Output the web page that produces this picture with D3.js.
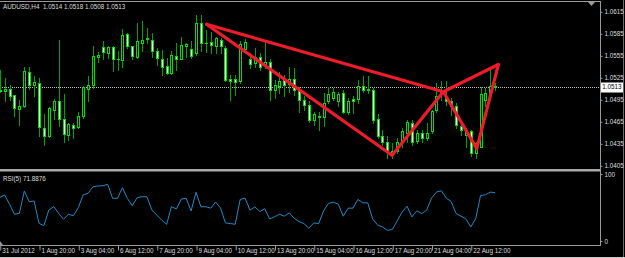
<!DOCTYPE html>
<html><head><meta charset="utf-8">
<script src="https://cdn.jsdelivr.net/npm/d3@7/dist/d3.min.js"></script>
<style>html,body{margin:0;padding:0;background:#000;overflow:hidden}</style>
</head><body>
<script>
// ---- data ----
const symbolTitle = "AUDUSD,H4  1.0514 1.0518 1.0508 1.0513";
const rsiTitle = "RSI(5) 71.8876";
const openP  = [1.0509,1.0507,1.0510,1.0501,1.0483,1.0486,1.0533,1.0515,1.0518,1.0457,1.0445,1.0481,1.0494,1.0469,1.0447,1.0461,1.0458,1.0473,1.0510,1.0515,1.0553,1.0567,1.0559,1.0567,1.0551,1.0549,1.0585,1.0568,1.0553,1.0573,1.0579,1.0577,1.0562,1.0551,1.0541,1.0531,1.0555,1.0551,1.0569,1.0564,1.0559,1.0600,1.0573,1.0574,1.0569,1.0577,1.0566,1.0524,1.0524,1.0520,1.0564,1.0551,1.0545,1.0553,1.0544,1.0547,1.0508,1.0514,1.0522,1.0517,1.0523,1.0509,1.0495,1.0488,1.0468,1.0472,1.0472,1.0493,1.0497,1.0493,1.0504,1.0479,1.0496,1.0496,1.0514,1.0510,1.0508,1.0469,1.0445,1.0438,1.0421,1.0425,1.0438,1.0450,1.0463,1.0439,1.0450,1.0443,1.0452,1.0481,1.0504,1.0497,1.0494,1.0486,1.0459,1.0447,1.0453,1.0423,1.0431,1.0495,1.0504,1.0514];
const highP  = [1.0536,1.0525,1.0515,1.0502,1.0495,1.0540,1.0540,1.0527,1.0525,1.0475,1.0485,1.0496,1.0577,1.0503,1.0463,1.0463,1.0479,1.0514,1.0528,1.0569,1.0560,1.0575,1.0568,1.0569,1.0561,1.0591,1.0586,1.0569,1.0600,1.0602,1.0593,1.0586,1.0566,1.0563,1.0552,1.0561,1.0572,1.0581,1.0572,1.0575,1.0611,1.0611,1.0590,1.0588,1.0581,1.0579,1.0568,1.0529,1.0529,1.0575,1.0578,1.0559,1.0566,1.0559,1.0572,1.0550,1.0522,1.0533,1.0529,1.0540,1.0538,1.0513,1.0500,1.0493,1.0479,1.0479,1.0504,1.0513,1.0511,1.0506,1.0509,1.0497,1.0500,1.0522,1.0527,1.0528,1.0511,1.0475,1.0454,1.0445,1.0436,1.0443,1.0456,1.0468,1.0468,1.0454,1.0454,1.0463,1.0481,1.0518,1.0520,1.0520,1.0497,1.0490,1.0464,1.0456,1.0454,1.0438,1.0513,1.0511,1.0539,1.0518];
const lowP   = [1.0505,1.0493,1.0495,1.0473,1.0460,1.0485,1.0510,1.0500,1.0446,1.0434,1.0444,1.0469,1.0459,1.0437,1.0440,1.0443,1.0456,1.0470,1.0494,1.0511,1.0547,1.0551,1.0552,1.0534,1.0535,1.0540,1.0566,1.0551,1.0552,1.0562,1.0572,1.0554,1.0543,1.0529,1.0530,1.0530,1.0536,1.0550,1.0554,1.0552,1.0556,1.0561,1.0560,1.0559,1.0559,1.0559,1.0520,1.0495,1.0502,1.0518,1.0563,1.0538,1.0540,1.0536,1.0538,1.0495,1.0497,1.0504,1.0500,1.0506,1.0502,1.0479,1.0481,1.0465,1.0461,1.0454,1.0459,1.0490,1.0495,1.0486,1.0477,1.0475,1.0477,1.0490,1.0506,1.0504,1.0463,1.0443,1.0434,1.0416,1.0415,1.0422,1.0431,1.0438,1.0434,1.0436,1.0438,1.0440,1.0450,1.0479,1.0495,1.0488,1.0474,1.0457,1.0447,1.0431,1.0418,1.0416,1.0430,1.0486,1.0502,1.0508];
const closeP = [1.0507,1.0510,1.0500,1.0484,1.0487,1.0534,1.0515,1.0519,1.0458,1.0446,1.0484,1.0494,1.0469,1.0448,1.0462,1.0457,1.0473,1.0512,1.0515,1.0555,1.0556,1.0560,1.0567,1.0551,1.0551,1.0584,1.0568,1.0555,1.0575,1.0577,1.0578,1.0561,1.0552,1.0540,1.0532,1.0556,1.0551,1.0570,1.0571,1.0555,1.0600,1.0573,1.0572,1.0570,1.0579,1.0569,1.0522,1.0521,1.0519,1.0571,1.0574,1.0544,1.0554,1.0540,1.0547,1.0508,1.0515,1.0521,1.0515,1.0523,1.0508,1.0495,1.0488,1.0468,1.0475,1.0473,1.0490,1.0503,1.0506,1.0503,1.0479,1.0494,1.0494,1.0514,1.0508,1.0508,1.0468,1.0446,1.0438,1.0424,1.0425,1.0438,1.0453,1.0465,1.0438,1.0450,1.0443,1.0450,1.0480,1.0500,1.0506,1.0493,1.0487,1.0460,1.0454,1.0453,1.0422,1.0436,1.0503,1.0504,1.0514,1.0513];
const rsiValues = [65,68.7,54.8,39.8,41.3,74.6,58.7,59.7,26.4,22.9,46.3,51.2,41.3,32.4,39.8,37.8,49.7,68.7,71.2,81,82.1,82.5,84.6,63.7,63.7,79.6,63.7,52.7,64.7,66.1,66,46.3,38.8,31.3,24.9,51.2,47.8,62.7,63.7,44.8,72.7,51.2,51.2,49,58,49,27,26,25,62,64,46,51,44,48,33,36,40,37,42,34,29,26,19,27,26,45,56,58,55,37,49,49,62,57,57,33,24,21,16,17,30,43,52,36,45,41,46,64,73,75,64,59,41,37,33,21,33,68,69,73,71.89];
const timeLabels = ["31 Jul 2012","1 Aug 20:00","3 Aug 04:00","6 Aug 12:00","7 Aug 20:00","9 Aug 04:00","10 Aug 12:00","13 Aug 20:00","15 Aug 04:00","16 Aug 12:00","17 Aug 20:00","21 Aug 04:00","22 Aug 12:00"];
const timeLabelBars = [0,8,16,24,32,40,48,56,64,72,80,88,96];
const priceTicks = [1.0615,1.0585,1.0555,1.0525,1.0495,1.0465,1.0435,1.0405];
const rsiTicks = [0,100];
const lastPrice = 1.0513;
// harmonic pattern points X, A, B, C, D (bar index, price)
const patternBar   = [42.15, 79.95, 90.41, 97.22, 101.62];
const patternPrice = [1.0598, 1.04193, 1.05059, 1.04285, 1.05431];
const patternSegments = [[0,1],[1,2],[2,3],[3,4],[0,2],[2,4]];

// ---- drawing ----
const W = 625, H = 258;
const svg = d3.select("body").append("svg").attr("width", W).attr("height", H)
  .style("font-family", "'Liberation Sans', Arial, sans-serif");
svg.append("rect").attr("width", W).attr("height", H).attr("fill", "#000");

const x = d3.scaleLinear().domain([0, 101]).range([-0.25, 495.3]);
const y = d3.scaleLinear().domain([1.0402, 1.0627]).range([168, 3]);
const yR = d3.scaleLinear().domain([0, 100]).range([241, 174]);

const defs = svg.append("defs");
defs.append("clipPath").attr("id", "mainClip").append("rect").attr("x", 0).attr("y", 2).attr("width", 600).attr("height", 167);
defs.append("clipPath").attr("id", "rsiClip").append("rect").attr("x", 0).attr("y", 172).attr("width", 600).attr("height", 73);

const main = svg.append("g").attr("clip-path", "url(#mainClip)");

// current price dashed line
main.append("line").attr("x1", 0).attr("x2", 600)
  .attr("y1", Math.round(y(lastPrice)) + 0.5).attr("y2", Math.round(y(lastPrice)) + 0.5)
  .attr("stroke", "#b8b8b8").attr("stroke-dasharray", "1,1");

const idx = d3.range(openP.length);
const cx = i => Math.round(x(i)) + 0.5;
const candles = main.append("g");
candles.selectAll("line.wick").data(idx).join("line").attr("class", "wick")
  .attr("x1", cx).attr("x2", cx)
  .attr("y1", i => Math.round(y(highP[i]))).attr("y2", i => Math.round(y(lowP[i])) + 1)
  .attr("stroke", "#00a400").attr("stroke-width", 1);
candles.selectAll("g.body").data(idx).join("g").attr("class", "body").each(function(i) {
  const g = d3.select(this);
  const top = Math.round(y(Math.max(openP[i], closeP[i])));
  const bot = Math.round(y(Math.min(openP[i], closeP[i])));
  const bull = closeP[i] >= openP[i];
  if (bot - top < 1) {
    g.append("line").attr("x1", cx(i) - 1.5).attr("x2", cx(i) + 1.5)
      .attr("y1", top + 0.5).attr("y2", top + 0.5).attr("stroke", "#00e800");
  } else {
    g.append("rect").attr("x", cx(i) - 1).attr("y", top + 0.5)
      .attr("width", 2).attr("height", bot - top)
      .attr("fill", bull ? "#000" : "#ffffff").attr("stroke", "#00e000").attr("stroke-width", 1);
  }
});

// harmonic pattern lines
main.append("g").selectAll("line").data(patternSegments).join("line")
  .attr("x1", d => x(patternBar[d[0]])).attr("y1", d => y(patternPrice[d[0]]))
  .attr("x2", d => x(patternBar[d[1]])).attr("y2", d => y(patternPrice[d[1]]))
  .attr("stroke", "#ee1c2a").attr("stroke-width", 3.2).attr("stroke-linecap", "round");

// frames
const frame = "#9a9a9a";
svg.append("line").attr("x1", 0).attr("x2", 601).attr("y1", 1.5).attr("y2", 1.5).attr("stroke", frame);
svg.append("rect").attr("x", 0).attr("y", 169).attr("width", 601).attr("height", 2.5).attr("fill", "#a8a8a8");
svg.append("line").attr("x1", 0).attr("x2", 601).attr("y1", 245.5).attr("y2", 245.5).attr("stroke", frame);
svg.append("line").attr("x1", 600.5).attr("x2", 600.5).attr("y1", 1).attr("y2", 246).attr("stroke", frame);
svg.append("line").attr("x1", 623.5).attr("x2", 623.5).attr("y1", 0).attr("y2", 258).attr("stroke", "#6a6a6a");
svg.append("line").attr("x1", 0).attr("x2", 625).attr("y1", 257.5).attr("y2", 257.5).attr("stroke", "#c8c8c8");
svg.append("path").attr("d", "M588,2L595,2L591.5,6Z").attr("fill", "#9a9a9a");
svg.append("path").attr("d", "M0,241L3,245L0,245Z").attr("fill", "#9a9a9a");

// RSI line
svg.append("g").attr("clip-path", "url(#rsiClip)").append("path")
  .datum(rsiValues)
  .attr("d", d3.line().x((d, i) => x(i)).y(d => yR(d)))
  .attr("fill", "none").attr("stroke", "#1f8ac4").attr("stroke-width", 1);

const txt = "#dcdcdc";
const fs = "6.3px";
// price axis
const pa = svg.append("g").attr("transform", "translate(600.5,0)")
  .call(d3.axisRight(y).tickValues(priceTicks).tickFormat(d3.format(".4f")).tickSize(2).tickPadding(2));
pa.select(".domain").remove();
pa.selectAll("line").attr("stroke", frame);
pa.selectAll("text").attr("fill", txt).style("font-size", fs).attr("font-family", null);

// last price box
svg.append("rect").attr("x", 601).attr("y", Math.round(y(lastPrice)) - 4.5).attr("width", 22).attr("height", 10).attr("fill", "#ffffff");
svg.append("text").attr("x", 612).attr("y", y(lastPrice) + 2.2).attr("text-anchor", "middle")
  .attr("fill", "#000").style("font-size", fs).text(d3.format(".4f")(lastPrice));

// RSI axis
const ra = svg.append("g").attr("transform", "translate(600.5,0)")
  .call(d3.axisRight(yR).tickValues(rsiTicks).tickFormat(d3.format("d")).tickSize(2).tickPadding(2));
ra.select(".domain").remove();
ra.selectAll("line").attr("stroke", frame);
ra.selectAll("text").attr("fill", txt).style("font-size", fs).attr("font-family", null);

// time axis
const ta = svg.append("g").attr("transform", "translate(0,245.5)")
  .call(d3.axisBottom(x).tickValues(timeLabelBars).tickFormat((d, i) => timeLabels[i]).tickSize(5));
ta.select(".domain").remove();
ta.selectAll("line").attr("stroke", frame).attr("transform", "translate(0.5,0)");
ta.selectAll("text").attr("fill", txt).style("font-size", fs).attr("font-family", null)
  .attr("text-anchor", "start").attr("x", 2).attr("y", 3).attr("dy", "0.71em");

// titles
svg.append("text").attr("x", 3).attr("y", 9).attr("fill", txt).style("font-size", fs).attr("xml:space", "preserve").style("white-space", "pre").text(symbolTitle);
svg.append("text").attr("x", 3).attr("y", 180.5).attr("fill", txt).style("font-size", fs).text(rsiTitle);
</script>
</body></html>
